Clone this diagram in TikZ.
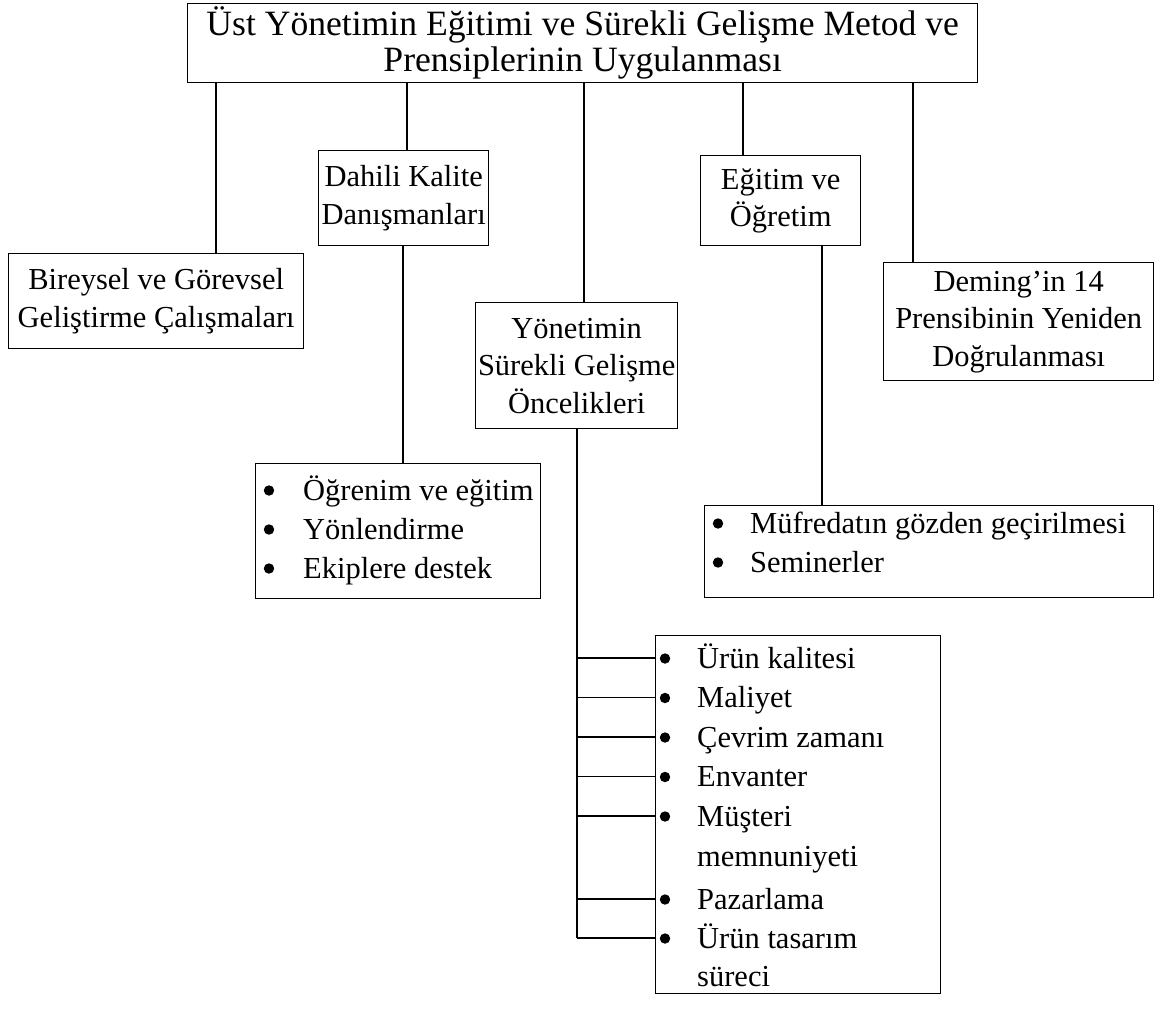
\documentclass[tikz,border=0pt]{standalone}
\usepackage{fontspec}
\setmainfont{Liberation Serif}
\usetikzlibrary{calc}
\begin{document}
\begin{tikzpicture}[x=1pt,y=-1pt,
  every node/.style={font=\fontsize{30.5}{37.5}\selectfont},
  box/.style={draw, line width=1.4pt, align=center, inner sep=0pt, anchor=north west},
  frame/.style={draw, line width=1.4pt, inner sep=0pt, anchor=north west},
  link/.style={line width=1.4pt},
  item/.style={anchor=base west, inner sep=0pt}]
\useasboundingbox (0,0) rectangle (1166,1020);

% top level
\node[box, minimum width=790pt, minimum height=79pt,
      font=\fontsize{35.6}{36}\selectfont] (top) at (187,3)
  {Üst Yönetimin Eğitimi ve Sürekli Gelişme Metod ve\\Prensiplerinin Uygulanması};

% second level
\node[box, minimum width=295pt, minimum height=95pt] (bireysel) at (8,253)
  {Bireysel ve Görevsel\\Geliştirme Çalışmaları};
\node[box, minimum width=170pt, minimum height=95pt] (dahili) at (318,150)
  {Dahili Kalite\\Danışmanları};
\node[box, minimum width=202pt, minimum height=126pt] (yonetim) at (475,302)
  {Yönetimin\\Sürekli Gelişme\\Öncelikleri};
\node[box, minimum width=160pt, minimum height=90pt] (egitim) at (700,155)
  {Eğitim ve\\Öğretim};
\node[box, minimum width=270pt, minimum height=118pt] (deming) at (883,262)
  {Deming’in 14\\Prensibinin Yeniden\\Doğrulanması};

% bullet lists (text only; bullets are filled below)
\node[frame, minimum width=285pt, minimum height=135pt] (listA) at (255,463) {};
\node[item] (a1) at (303,500) {Öğrenim ve eğitim};
\node[item] (a2) at (303,539) {Yönlendirme};
\node[item] (a3) at (303,578) {Ekiplere destek};

\node[frame, minimum width=449pt, minimum height=92pt] (listB) at (704,505) {};
\node[item] (b1) at (750,533) {Müfredatın gözden geçirilmesi};
\node[item] (b2) at (750,572) {Seminerler};

\node[frame, minimum width=285pt, minimum height=358pt] (listC) at (655,635) {};
\node[item] (c1) at (697,668)   {Ürün kalitesi};
\node[item] (c2) at (697,707.5) {Maliyet};
\node[item] (c3) at (697,747)   {Çevrim zamanı};
\node[item] (c4) at (697,786.5) {Envanter};
\node[item] (c5) at (697,826)   {Müşteri};
\node[item] (c5b) at (697,866)  {memnuniyeti};
\node[item] (c6) at (697,909)   {Pazarlama};
\node[item] (c7) at (697,948)   {Ürün tasarım};
\node[item] (c7b) at (697,986)  {süreci};

% bullets
\foreach \n in {a1,a2,a3}
  \fill ([xshift=-34pt,yshift=9.5pt]\n.base west) circle (5.2pt);
\foreach \n in {b1,b2,c1,c2,c3,c4,c5,c6,c7}
  \fill ([xshift=-32pt,yshift=9.5pt]\n.base west) circle (5.2pt);

% connector columns
\coordinate (xA) at (216,0);
\coordinate (xB) at (407,0);
\coordinate (xC) at (584,0);
\coordinate (xD) at (743,0);
\coordinate (xE) at (913,0);
\coordinate (xF) at (403,0);
\coordinate (xG) at (822,0);
\coordinate (xH) at (577,0);

\draw[link] (top.south -| xA) -- (bireysel.north -| xA);
\draw[link] (top.south -| xB) -- (dahili.north -| xB);
\draw[link] (top.south -| xC) -- (yonetim.north -| xC);
\draw[link] (top.south -| xD) -- (egitim.north -| xD);
\draw[link] (top.south -| xE) -- (deming.north -| xE);
\draw[link] (dahili.south -| xF) -- (listA.north -| xF);
\draw[link] (egitim.south -| xG) -- (listB.north -| xG);

% priorities: trunk with one branch per item
\foreach \k in {1,...,7} {
  \coordinate (k\k) at ([yshift=10pt]c\k.base);
}
\draw[link] (yonetim.south -| xH) -- (k7 -| xH);
\foreach \k in {1,...,7} {
  \draw[link] (k\k -| xH) -- (k\k -| listC.west);
}
\end{tikzpicture}
\end{document}
